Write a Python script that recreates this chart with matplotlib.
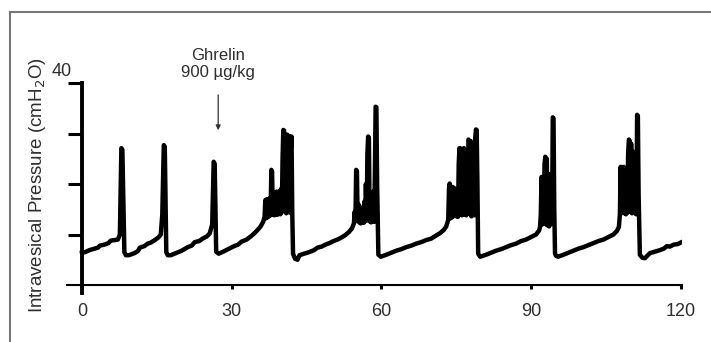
import matplotlib
matplotlib.use("Agg")
import matplotlib.pyplot as plt
from matplotlib.patches import Rectangle

plt.rcParams['font.family'] = ['Liberation Sans', 'DejaVu Sans']

# time (min) and intravesical pressure (cmH2O)
time_min = [
    # cycles 1-3
    0, 0.6, 1.5, 2.5, 3.2, 3.6, 4.5, 5.3, 5.8, 6.6, 7.2, 7.6, 7.9, 8.1, 8.5, 8.8, 9.4,
    10.5, 11.2, 11.6, 12.5, 13.2, 13.8, 14.6, 15.3, 15.8, 16.1, 16.4, 16.6, 16.9, 17.2, 17.8,
    19, 20, 21.2, 22, 22.6, 23.5, 24.2, 25, 25.6, 26.1, 26.4, 26.6, 26.9, 27.4,
    # cycle 4
    28.5, 29.5, 30.5, 31.3, 32, 33, 33.8, 34.5, 35.2, 35.8, 36.3,
    36.6, 36.75, 36.9, 37.05, 37.2, 37.35, 37.5, 37.65, 37.8, 37.95, 38.1, 38.25, 38.4,
    38.55, 38.7, 38.85, 39.0, 39.15, 39.3, 39.45, 39.6, 39.75, 39.9, 40.05, 40.2, 40.35,
    40.5, 40.65, 40.8, 40.95, 41.1, 41.25, 41.4, 41.55, 41.7, 41.85, 42.0, 42.15, 42.3,
    42.7, 43.2, 43.6,
    # cycle 5
    44.5, 45.5, 46.5, 47.2, 48, 48.8, 49.6, 50.4, 51.2, 52, 52.8, 53.5, 54.1,
    54.5, 54.65, 54.8, 54.95, 55.1, 55.25, 55.4, 55.55, 55.7, 55.85, 56.0, 56.15, 56.3,
    56.45, 56.6, 56.75, 56.9, 57.05, 57.2, 57.35, 57.5, 57.65, 57.8, 57.95, 58.1, 58.25,
    58.4, 58.55, 58.7, 58.85, 59.0, 59.15, 59.4, 59.9,
    # cycle 6
    61, 62, 63, 64, 65, 66, 67, 68, 69, 70, 71, 71.8, 72.5, 73.0,
    73.4, 73.55, 73.7, 73.85, 74.0, 74.15, 74.3, 74.45, 74.6, 74.75, 74.9, 75.05, 75.2,
    75.35, 75.5, 75.65, 75.8, 75.95, 76.1, 76.25, 76.4, 76.55, 76.7, 76.85, 77.0, 77.15,
    77.3, 77.45, 77.6, 77.75, 77.9, 78.05, 78.2, 78.35, 78.5, 78.65, 78.8, 78.95, 79.1,
    79.25, 79.4, 79.8,
    # cycle 7
    81, 82, 83, 84, 85, 86, 87, 88, 89, 90, 91,
    91.6, 91.8, 91.95, 92.1, 92.25, 92.4, 92.55, 92.7, 92.85, 93.0, 93.15, 93.3, 93.45,
    93.6, 93.75, 93.9, 94.05, 94.2, 94.35, 94.5, 94.65, 94.8, 95.0, 95.4,
    # cycle 8
    96.5, 97.5, 98.5, 99.5, 100.5, 101.5, 102.5, 103.5, 104.5, 105.5, 106.5, 107.2,
    107.6, 107.8, 107.95, 108.1, 108.25, 108.4, 108.55, 108.7, 108.85, 109.0, 109.15,
    109.3, 109.45, 109.6, 109.75, 109.9, 110.05, 110.2, 110.35, 110.5, 110.65, 110.8,
    110.95, 111.1, 111.25, 111.4, 111.55, 111.8, 112.3, 112.8,
    # tail
    113.8, 114.8, 115.8, 116.6, 117.2, 117.8, 118.6, 119.4, 120.0,
]
pressure = [
    # cycles 1-3
    6.4, 6.5, 6.9, 7.2, 7.4, 7.8, 8.0, 8.3, 8.8, 8.9, 9.0, 10.0, 27.1, 26.8, 6.5, 5.9, 5.9,
    6.3, 6.7, 7.4, 7.7, 8.2, 8.4, 8.9, 9.4, 10.0, 14.0, 27.7, 27.4, 6.5, 5.9, 5.9,
    6.4, 6.8, 7.5, 7.8, 8.5, 8.7, 9.2, 9.6, 10.2, 12.0, 24.4, 24.0, 6.6, 6.2,
    # cycle 4
    6.7, 7.2, 7.7, 8.0, 8.6, 9.0, 9.6, 10.2, 10.9, 11.6, 12.5,
    13.5, 16.8, 13.2, 17.0, 13.4, 16.6, 13.6, 17.2, 13.8, 22.8, 22.5, 14.0, 18.0,
    13.8, 17.5, 14.2, 18.5, 13.9, 18.2, 14.3, 18.6, 14.0, 19.0, 14.4, 25.0, 30.7,
    30.6, 14.6, 28.0, 14.2, 29.8, 14.5, 26.0, 29.5, 14.3, 27.0, 29.4, 14.0, 6.2,
    5.2, 5.0, 5.9,
    # cycle 5
    6.2, 6.5, 6.9, 7.4, 7.6, 8.0, 8.3, 8.7, 9.0, 9.4, 9.9, 10.5, 11.2,
    12.2, 14.5, 12.6, 22.8, 22.6, 12.8, 16.0, 12.4, 15.5, 12.2, 14.8, 12.4, 15.0,
    12.3, 16.5, 12.6, 20.0, 12.8, 26.0, 29.4, 29.2, 12.6, 17.0, 12.4, 16.0, 12.6,
    18.5, 12.5, 22.0, 35.3, 35.2, 20.0, 6.0, 5.6,
    # cycle 6
    6.0, 6.4, 6.8, 7.1, 7.5, 7.8, 8.2, 8.5, 8.9, 9.2, 9.8, 10.3, 10.9, 11.6,
    12.9, 19.0, 20.1, 13.2, 19.5, 13.4, 19.4, 13.6, 19.2, 13.8, 18.5, 13.6, 19.0,
    13.5, 24.0, 27.1, 14.0, 27.0, 13.8, 26.8, 14.2, 27.1, 13.9, 26.5, 13.8, 24.0,
    14.2, 28.8, 28.6, 14.0, 28.5, 13.6, 26.0, 14.0, 27.0, 13.8, 29.0, 30.8, 30.7,
    20.0, 6.2, 5.6,
    # cycle 7
    6.0, 6.4, 6.8, 7.1, 7.5, 7.9, 8.2, 8.7, 9.0, 9.5, 10.0,
    10.8, 11.5, 14.0, 21.4, 12.0, 21.0, 12.2, 24.0, 25.4, 12.0, 25.0, 11.8, 22.0,
    11.6, 20.0, 12.0, 18.0, 12.2, 33.2, 33.0, 15.0, 6.2, 5.8, 5.6,
    # cycle 8
    6.0, 6.4, 6.8, 7.2, 7.5, 7.9, 8.3, 8.7, 9.0, 9.5, 10.0, 10.7,
    11.5, 14.0, 23.4, 14.2, 23.0, 14.5, 23.4, 14.2, 22.0, 14.0, 20.0,
    14.3, 26.0, 28.8, 28.6, 14.5, 28.0, 14.2, 26.5, 14.6, 24.0, 14.2,
    22.0, 14.0, 33.7, 33.5, 18.0, 6.0, 5.4, 5.3,
    # tail
    6.3, 6.6, 6.9, 7.2, 7.7, 7.6, 8.0, 8.1, 8.4,
]

x_ticks = [0, 30, 60, 90, 120]
y_ticks = [10, 20, 30, 40]

txt_color = '#2e2e2e'

fig = plt.figure(figsize=(7.11, 3.42), dpi=100)
ax = fig.add_axes([0.0942, 0.1430, 0.8654, 0.6143])

ax.plot(time_min, pressure, color='black', linewidth=3.2, solid_joinstyle='round')

ax.set_xlim(-3, 120.3)
ax.set_ylim(-1.6, 40)

ax.spines['top'].set_visible(False)
ax.spines['right'].set_visible(False)
ax.spines['left'].set_position(('data', 0))
ax.spines['bottom'].set_position(('data', 0))
ax.spines['left'].set_linewidth(2.8)
ax.spines['bottom'].set_linewidth(1.5)

ax.set_xticks(x_ticks)
ax.set_xticklabels([str(v) for v in x_ticks], fontsize=13, color=txt_color)
ax.tick_params(axis='x', direction='out', length=3, width=2.2, pad=10)
ax.set_yticks(y_ticks)
ax.set_yticklabels([])
ax.tick_params(axis='y', direction='out', length=10, width=2.2)

ax.text(-2, 42.2, '40', ha='right', va='center', fontsize=13, color=txt_color, clip_on=False)

fig.text(38 / 711, 1 - 185 / 342, 'Intravesical Pressure (cmH$_2$O)', rotation=90,
         ha='center', va='center', fontsize=13.5, color=txt_color)

fig.text(218 / 711, 1 - 55 / 342, 'Ghrelin', ha='center', va='center', fontsize=12, color=txt_color)
fig.text(218 / 711, 1 - 72 / 342, '900 µg/kg', ha='center', va='center', fontsize=12, color=txt_color)
ax.annotate('', xy=(27.3, 30.1), xytext=(27.3, 38.2),
            arrowprops=dict(arrowstyle='-|>', lw=0.9, color='#333333', mutation_scale=7))

fig.patches.append(Rectangle((10 / 711, -0.1), 1.2, 1 - 12 / 342 + 0.1, transform=fig.transFigure,
                             fill=False, edgecolor='#777777', linewidth=1.5))

fig.savefig('out.png', dpi=100)
